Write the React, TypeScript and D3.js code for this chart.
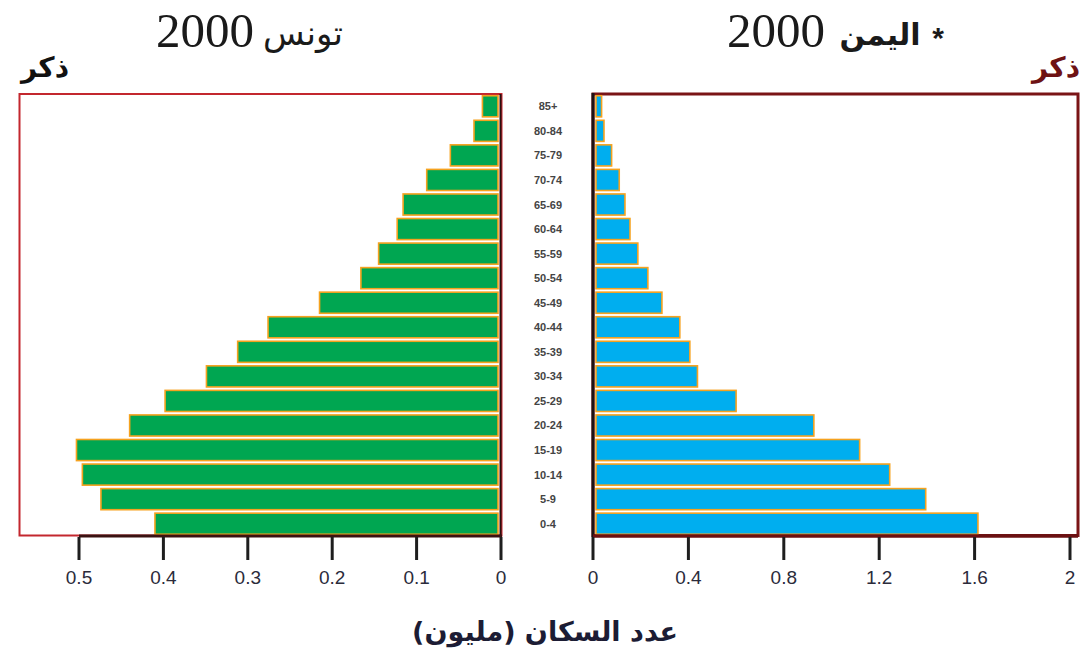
import React from "react";
import * as d3 from "d3";

// age groups, bottom to top
const ageGroups = ["0-4", "5-9", "10-14", "15-19", "20-24", "25-29", "30-34", "35-39", "40-44", "45-49", "50-54", "55-59", "60-64", "65-69", "70-74", "75-79", "80-84", "85+"];

// Tunisia 2000, males (millions)
const tunisiaMale = [0.41, 0.474, 0.496, 0.503, 0.44, 0.398, 0.349, 0.312, 0.276, 0.215, 0.166, 0.145, 0.123, 0.116, 0.088, 0.06, 0.032, 0.022];

// Yemen 2000, males (millions)
const yemenMale = [1.614, 1.395, 1.244, 1.118, 0.926, 0.6, 0.438, 0.406, 0.364, 0.289, 0.23, 0.188, 0.155, 0.134, 0.11, 0.078, 0.046, 0.036];

const tunisiaTicks = [0.5, 0.4, 0.3, 0.2, 0.1, 0];
const yemenTicks = [0, 0.4, 0.8, 1.2, 1.6, 2];

const arabicFont = "'DejaVu Sans', sans-serif";
const latinSerif = "'Liberation Serif', 'DejaVu Serif', serif";
const latinSans = "'Liberation Sans', Arial, sans-serif";

const App = () => {
  const width = 1088;
  const height = 652;
  const top = 95;
  const bottom = 535;

  const y = d3.scaleBand<string>()
    .domain([...ageGroups].reverse())
    .range([top, bottom])
    .paddingInner(0.14)
    .paddingOuter(0.03);

  const xLeft = d3.scaleLinear().domain([0, 0.5]).range([501, 79]);
  const xRight = d3.scaleLinear().domain([0, 2]).range([593, 1070]);

  const barStroke = "#f5a21f";

  return (
    <svg width={width} height={height} style={{ position: "absolute", left: 0, top: 0, background: "white" }}>
      {/* titles */}
      <text x={205} y={47} textAnchor="middle" fontFamily={latinSerif} fontSize={49} fill="#1a1a1a">2000</text>
      <text x={303} y={45} textAnchor="middle" fontFamily={arabicFont} fontSize={34} fill="#1a1a1a">تونس</text>
      <text x={45} y={77} textAnchor="middle" fontFamily={arabicFont} fontWeight="bold" fontSize={28} fill="#111">ذكر</text>

      <text x={776} y={47} textAnchor="middle" fontFamily={latinSerif} fontSize={49} fill="#1a1a1a">2000</text>
      <text x={880} y={45} textAnchor="middle" fontFamily={arabicFont} fontWeight="bold" fontSize={30} fill="#1a1a1a">اليمن</text>
      <text x={938} y={48} textAnchor="middle" fontFamily={latinSans} fontWeight="bold" fontSize={30} fill="#1a1a1a">*</text>
      <text x={1056} y={77} textAnchor="middle" fontFamily={arabicFont} fontWeight="bold" fontSize={28} fill="#6e1214">ذكر</text>

      {/* left panel frame */}
      <rect x={19.5} y={94} width={482} height={441.5} fill="none" stroke="#c3272e" strokeWidth={2} />

      {/* Tunisia bars */}
      {ageGroups.map((a, i) => (
        <rect
          key={"t" + a}
          x={xLeft(tunisiaMale[i])}
          y={y(a)}
          width={xLeft(0) - 3 - xLeft(tunisiaMale[i])}
          height={y.bandwidth()}
          fill="#00a651"
          stroke={barStroke}
          strokeWidth={1.6}
        />
      ))}
      <line x1={500.5} x2={500.5} y1={94} y2={536} stroke="#2a1010" strokeWidth={2} />
      <line x1={xLeft(0.5)} x2={502} y1={536} y2={536} stroke="#3a1212" strokeWidth={3} />
      {tunisiaTicks.map((t) => (
        <g key={"lt" + t}>
          <line x1={xLeft(t)} x2={xLeft(t)} y1={537} y2={560} stroke="#1e1e1e" strokeWidth={3} />
          <text x={xLeft(t)} y={584} textAnchor="middle" fontFamily={latinSans} fontSize={19} fill="#2b2b3b">{String(t)}</text>
        </g>
      ))}

      {/* right panel frame */}
      <rect x={593} y={94} width={485} height={441.5} fill="none" stroke="#7a1416" strokeWidth={3} />

      {/* Yemen bars */}
      {ageGroups.map((a, i) => (
        <rect
          key={"y" + a}
          x={xRight(0) + 3}
          y={y(a)}
          width={xRight(yemenMale[i]) - xRight(0) - 3}
          height={y.bandwidth()}
          fill="#00aeef"
          stroke={barStroke}
          strokeWidth={1.6}
        />
      ))}
      <line x1={593} x2={593} y1={93} y2={537} stroke="#1e1212" strokeWidth={3} />
      <line x1={593} x2={1078} y1={536} y2={536} stroke="#6a1012" strokeWidth={3.5} />
      {yemenTicks.map((t) => (
        <g key={"rt" + t}>
          <line x1={xRight(t)} x2={xRight(t)} y1={537} y2={560} stroke="#1e1e1e" strokeWidth={3} />
          <text x={xRight(t)} y={584} textAnchor="middle" fontFamily={latinSans} fontSize={19} fill="#2b2b3b">{String(t)}</text>
        </g>
      ))}

      {/* age labels */}
      {ageGroups.map((a) => (
        <text
          key={"l" + a}
          x={548}
          y={(y(a) as number) + y.bandwidth() / 2 + 4}
          textAnchor="middle"
          fontFamily={latinSans}
          fontWeight="bold"
          fontSize={11}
          fill="#444"
        >
          {a}
        </text>
      ))}

      {/* x axis title */}
      <text x={545} y={641} textAnchor="middle" fontFamily={arabicFont} fontWeight="bold" fontSize={27} fill="#1c1c34" direction="rtl">
        عدد السكان (مليون)
      </text>
    </svg>
  );
};

export default App;
